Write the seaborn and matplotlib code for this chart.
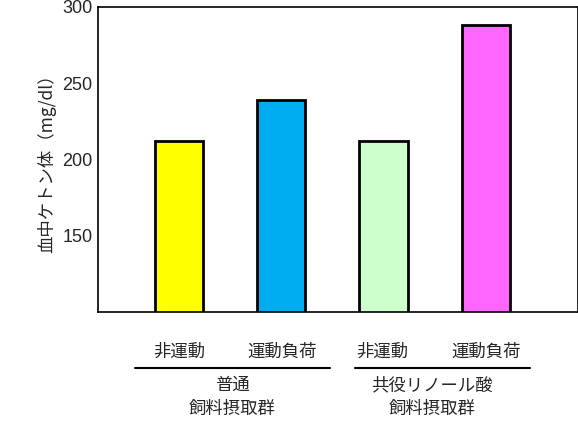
import matplotlib
matplotlib.use("Agg")
import matplotlib.pyplot as plt
import seaborn as sns
import pandas as pd

categories = ["非運動", "運動負荷", "非運動 ", "運動負荷 "]
values = [212, 239, 212, 288]
colors = ["#FFFF00", "#00AEEF", "#CCFFCC", "#FF66FF"]
groups = ["普通\n飼料摂取群", "共役リノール酸\n飼料摂取群"]

sns.set_style("white")
plt.rcParams['font.family'] = ['Liberation Sans', 'Noto Sans CJK JP']

fig = plt.figure(figsize=(5.78, 4.23), dpi=100)
ax = fig.add_axes([98/578, 1-312/423, 1-98/578, (312-7)/423])
df = pd.DataFrame({"cat": categories, "val": values})
sns.barplot(data=df, x="cat", y="val", hue="cat", palette=colors, legend=False,
            width=0.47, edgecolor="black", linewidth=2, ax=ax, saturation=1)
ax.set_autoscale_on(False)
ax.set_ylim(100, 300)
ax.set_xlim(-0.79, 3.9)
ax.set_yticks([150, 200, 250, 300])
ax.tick_params(axis='y', labelsize=13, length=0, pad=4)
ax.set_xticks([])
ax.set_xlabel("")
ax.set_ylabel("血中ケトン体（mg/dl）", fontsize=12.5, family=['Noto Sans CJK JP'])
for s in ["left", "top", "bottom", "right"]:
    ax.spines[s].set_linewidth(1.2)
    ax.spines[s].set_color("black")
    ax.spines[s].set_visible(True)

xs = [179, 282, 382, 486]
cjk = ['Noto Sans CJK JP']
for x, c in zip(xs, categories):
    fig.text(x/578, 1-352/423, c.strip(), ha="center", va="center", fontsize=12.5, family=cjk)
fig.add_artist(plt.Line2D([135/578, 330/578], [1-368/423]*2, color="black", lw=1.5))
fig.add_artist(plt.Line2D([355/578, 530/578], [1-368/423]*2, color="black", lw=1.5))
for x, g in zip([232, 432], groups):
    fig.text(x/578, 1-397/423, g, ha="center", va="center", fontsize=12.5, linespacing=1.4, family=cjk)

fig.savefig("out.png", dpi=100)
